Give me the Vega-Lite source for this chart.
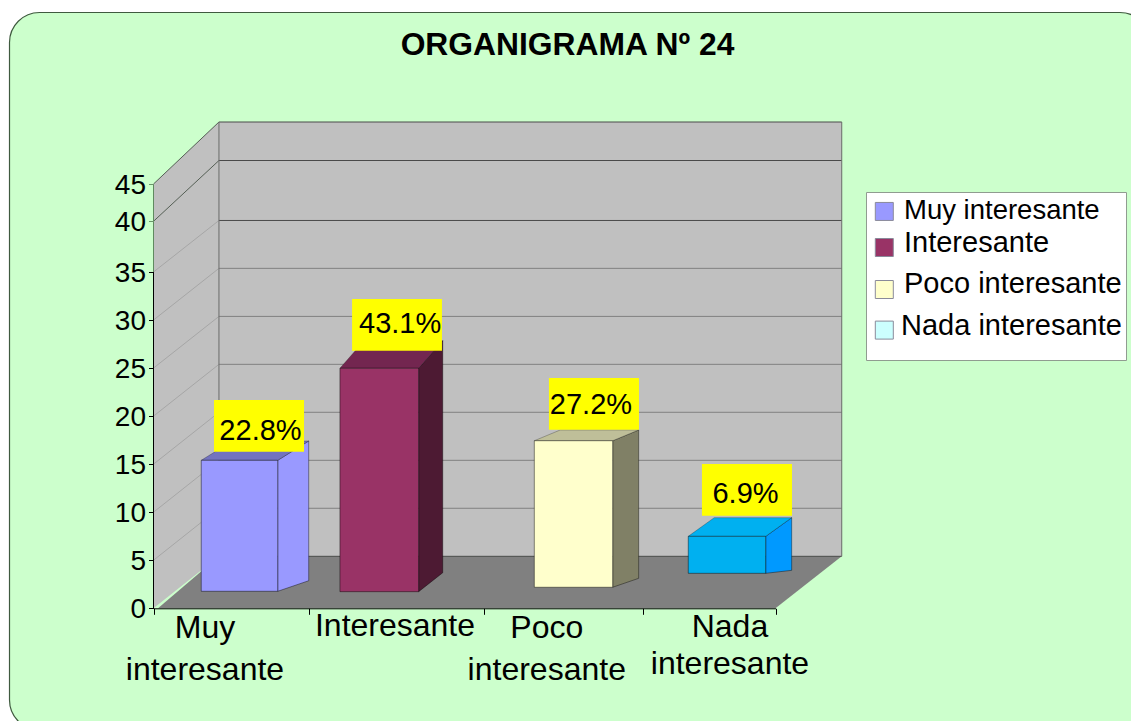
{"$schema":"https://vega.github.io/schema/vega-lite/v6.json","width":1131,"height":721,"padding":0,"autosize":{"type":"none"},"background":"white","config":{"font":"Liberation Sans","view":{"stroke":null}},"title":{"text":"ORGANIGRAMA Nº 24","font":"Liberation Sans","fontSize":31.8,"fontWeight":"bold","color":"black","anchor":"middle","frame":"group","baseline":"alphabetic","offset":-32,"dx":2,"dy":55},"datasets":{"panel":[{"x0":-0.926,"x1":6.408,"y0":-12.67,"y1":67.99}],"wall":[{"x0":0.421,"x1":4.426,"y0":5.41,"y1":53.31}],"leftWall":[{"x":0,"y0":0,"y1":45},{"x":0.421,"y0":5.41,"y1":53.31}],"floor":[{"y":0,"x0":0.029,"x1":4},{"y":5.41,"x0":0.421,"x1":4.426}],"grid":[{"y":10.41},{"y":15.4},{"y":20.4},{"y":25.39},{"y":30.38},{"y":35.36}],"gridDark":[{"y":5.41},{"y":40.11},{"y":48.15},{"y":53.31}],"diagLight":[{"t":5,"x":0,"y":5},{"t":5,"x":0.421,"y":10.41},{"t":10,"x":0,"y":10},{"t":10,"x":0.421,"y":15.4},{"t":15,"x":0,"y":15},{"t":15,"x":0.421,"y":20.4},{"t":20,"x":0,"y":20},{"t":20,"x":0.421,"y":25.39},{"t":25,"x":0,"y":25},{"t":25,"x":0.421,"y":30.38},{"t":30,"x":0,"y":30},{"t":30,"x":0.421,"y":35.36},{"t":35,"x":0,"y":35},{"t":35,"x":0.421,"y":40.11}],"diagDark":[{"t":40,"x":0,"y":40},{"t":40,"x":0.421,"y":48.15},{"t":45,"x":0,"y":45},{"t":45,"x":0.421,"y":53.31}],"edges":[{"x":0.421,"y0":5.41,"y1":53.31},{"x":4.426,"y0":5.41,"y1":53.31}],"axisLow":[{"x":0,"y0":0,"y1":35}],"axisHigh":[{"x":0,"y0":35,"y1":45}],"bars":[{"categoria":"Muy interesante","x0":0.307,"x1":0.799,"y0":1.77,"y1":15.4},{"categoria":"Interesante","x0":1.199,"x1":1.705,"y0":1.73,"y1":24.98},{"categoria":"Poco interesante","x0":2.449,"x1":2.953,"y0":2.19,"y1":17.44},{"categoria":"Nada frontal","x0":3.439,"x1":3.937,"y0":3.64,"y1":7.49}],"sides":[{"cara":"Muy lateral","x":0.799,"y0":1.77,"y1":15.4},{"cara":"Muy lateral","x":0.998,"y0":2.87,"y1":17.41},{"cara":"Int lateral","x":1.705,"y0":1.73,"y1":24.98},{"cara":"Int lateral","x":1.86,"y0":3.7,"y1":27.85},{"cara":"Poco lateral","x":2.953,"y0":2.19,"y1":17.44},{"cara":"Poco lateral","x":3.12,"y0":3.12,"y1":18.56},{"cara":"Nada lateral","x":3.937,"y0":3.64,"y1":7.49},{"cara":"Nada lateral","x":4.104,"y0":3.95,"y1":9.43}],"tops":[{"cara":"Muy superior","y":15.4,"x0":0.307,"x1":0.799},{"cara":"Muy superior","y":17.41,"x0":0.507,"x1":0.998},{"cara":"Int superior","y":24.98,"x0":1.199,"x1":1.705},{"cara":"Int superior","y":27.85,"x0":1.354,"x1":1.86},{"cara":"Poco superior","y":17.44,"x0":2.449,"x1":2.953},{"cara":"Poco superior","y":18.56,"x0":2.616,"x1":3.12},{"cara":"Nada superior","y":7.49,"x0":3.439,"x1":3.937},{"cara":"Nada superior","y":9.43,"x0":3.606,"x1":4.104}],"labels":[{"label":"22.8%","x":0.688,"y":17.51,"x0":0.389,"x1":0.968,"y0":16.3,"y1":21.68},{"label":"43.1%","x":1.586,"y":28.62,"x0":1.277,"x1":1.855,"y0":26.81,"y1":32.19},{"label":"27.2%","x":2.813,"y":20.22,"x0":2.543,"x1":3.122,"y0":18.59,"y1":23.97},{"label":"6.9%","x":3.807,"y":10.93,"x0":3.527,"x1":4.106,"y0":9.64,"y1":15.02}],"cats":[{"t":"Muy","x":0.331,"y":-3.12},{"t":"interesante","x":0.331,"y":-7.46},{"t":"Interesante","x":1.553,"y":-2.88},{"t":"Poco","x":2.529,"y":-3.12},{"t":"interesante","x":2.529,"y":-7.46},{"t":"Nada","x":3.707,"y":-2.96},{"t":"interesante","x":3.707,"y":-6.84}]},"layer":[{"data":{"name":"panel"},"mark":{"type":"rect","fill":"#ccffcc","stroke":"#3f5a3f","strokeWidth":1.2,"cornerRadius":30},"encoding":{"x":{"field":"x0","type":"quantitative","title":null,"scale":{"domain":[0,4],"range":[153.5,775.5],"nice":false,"zero":false},"axis":{"values":[0,1,2.125,3.15,4],"labels":false,"offset":-112.7,"domainColor":"black","tickColor":"black","tickSize":6,"grid":false,"zindex":1}},"x2":{"field":"x1"},"y":{"field":"y0","type":"quantitative","title":null,"scale":{"domain":[0,35,40,45],"range":[608.3,272,221.3,184],"nice":false,"zero":false},"axis":{"values":[0,5,10,15,20,25,30,35,40,45],"offset":-153.5,"domain":false,"tickColor":{"condition":{"test":"datum.value>=40","value":"#6a946a"},"value":"black"},"tickSize":5,"labelFontSize":28,"labelFont":"Liberation Sans","labelColor":"black","labelPadding":3,"labelOffset":1.5,"labelOverlap":false,"grid":false,"zindex":1}},"y2":{"field":"y1"}}},{"data":{"name":"wall"},"mark":{"type":"rect","fill":"#c0c0c0"},"encoding":{"x":{"field":"x0","type":"quantitative","title":null,"scale":{"domain":[0,4],"range":[153.5,775.5],"nice":false,"zero":false}},"x2":{"field":"x1"},"y":{"field":"y0","type":"quantitative","title":null,"scale":{"domain":[0,35,40,45],"range":[608.3,272,221.3,184],"nice":false,"zero":false}},"y2":{"field":"y1"}}},{"data":{"name":"leftWall"},"mark":{"type":"area","orient":"vertical","fill":"#c0c0c0"},"encoding":{"x":{"field":"x","type":"quantitative","title":null,"scale":{"domain":[0,4],"range":[153.5,775.5],"nice":false,"zero":false}},"y":{"field":"y0","type":"quantitative","title":null,"scale":{"domain":[0,35,40,45],"range":[608.3,272,221.3,184],"nice":false,"zero":false}},"y2":{"field":"y1"}}},{"data":{"name":"floor"},"mark":{"type":"area","orient":"horizontal","fill":"#808080"},"encoding":{"y":{"field":"y","type":"quantitative","title":null,"scale":{"domain":[0,35,40,45],"range":[608.3,272,221.3,184],"nice":false,"zero":false}},"x":{"field":"x0","type":"quantitative","title":null,"scale":{"domain":[0,4],"range":[153.5,775.5],"nice":false,"zero":false}},"x2":{"field":"x1"}}},{"data":{"name":"grid"},"mark":{"type":"rule","stroke":"#808080","strokeWidth":1},"encoding":{"y":{"field":"y","type":"quantitative","title":null,"scale":{"domain":[0,35,40,45],"range":[608.3,272,221.3,184],"nice":false,"zero":false}},"x":{"datum":0.421,"type":"quantitative","title":null,"scale":{"domain":[0,4],"range":[153.5,775.5],"nice":false,"zero":false}},"x2":{"datum":4.426}}},{"data":{"name":"gridDark"},"mark":{"type":"rule","stroke":"#4a4a4a","strokeWidth":1},"encoding":{"y":{"field":"y","type":"quantitative","title":null,"scale":{"domain":[0,35,40,45],"range":[608.3,272,221.3,184],"nice":false,"zero":false}},"x":{"datum":0.421,"type":"quantitative","title":null,"scale":{"domain":[0,4],"range":[153.5,775.5],"nice":false,"zero":false}},"x2":{"datum":4.426}}},{"data":{"name":"diagLight"},"mark":{"type":"line","stroke":"#a6a6a6","strokeWidth":1},"encoding":{"detail":{"field":"t"},"x":{"field":"x","type":"quantitative","title":null,"scale":{"domain":[0,4],"range":[153.5,775.5],"nice":false,"zero":false}},"y":{"field":"y","type":"quantitative","title":null,"scale":{"domain":[0,35,40,45],"range":[608.3,272,221.3,184],"nice":false,"zero":false}}}},{"data":{"name":"diagDark"},"mark":{"type":"line","stroke":"#555f55","strokeWidth":1},"encoding":{"detail":{"field":"t"},"x":{"field":"x","type":"quantitative","title":null,"scale":{"domain":[0,4],"range":[153.5,775.5],"nice":false,"zero":false}},"y":{"field":"y","type":"quantitative","title":null,"scale":{"domain":[0,35,40,45],"range":[608.3,272,221.3,184],"nice":false,"zero":false}}}},{"data":{"name":"edges"},"mark":{"type":"rule","stroke":"#6a6a6a","strokeWidth":1},"encoding":{"x":{"field":"x","type":"quantitative","title":null,"scale":{"domain":[0,4],"range":[153.5,775.5],"nice":false,"zero":false}},"y":{"field":"y0","type":"quantitative","title":null,"scale":{"domain":[0,35,40,45],"range":[608.3,272,221.3,184],"nice":false,"zero":false}},"y2":{"field":"y1"}}},{"data":{"name":"axisHigh"},"mark":{"type":"rule","stroke":"#5f8a5f","strokeWidth":1},"encoding":{"x":{"field":"x","type":"quantitative","title":null,"scale":{"domain":[0,4],"range":[153.5,775.5],"nice":false,"zero":false}},"y":{"field":"y0","type":"quantitative","title":null,"scale":{"domain":[0,35,40,45],"range":[608.3,272,221.3,184],"nice":false,"zero":false}},"y2":{"field":"y1"}}},{"data":{"name":"axisLow"},"mark":{"type":"rule","stroke":"black","strokeWidth":1},"encoding":{"x":{"field":"x","type":"quantitative","title":null,"scale":{"domain":[0,4],"range":[153.5,775.5],"nice":false,"zero":false}},"y":{"field":"y0","type":"quantitative","title":null,"scale":{"domain":[0,35,40,45],"range":[608.3,272,221.3,184],"nice":false,"zero":false}},"y2":{"field":"y1"}}},{"data":{"name":"sides"},"mark":{"type":"area","orient":"vertical","stroke":"#000000","strokeOpacity":0.4,"strokeWidth":1},"encoding":{"color":{"field":"cara","type":"nominal","title":null,"scale":{"domain":["Muy interesante","Interesante","Poco interesante","Nada interesante","Nada frontal","Muy lateral","Int lateral","Poco lateral","Nada lateral","Muy superior","Int superior","Poco superior","Nada superior"],"range":["#9999ff","#993366","#ffffcc","#ccffff","#00b0f0","#9999ff","#4d1a33","#808066","#0099ff","#7373bf","#732650","#bfbf99","#00b0f0"]},"legend":{"values":["Muy interesante","Interesante","Poco interesante","Nada interesante"],"orient":"none","legendX":866,"legendY":192,"padding":4,"fillColor":"white","strokeColor":"#909c90","symbolType":"square","symbolSize":324,"symbolOffset":-0.2,"symbolStrokeColor":"#8a8a9a","symbolStrokeWidth":1,"symbolOpacity":1,"labelFont":"Liberation Sans","labelFontSize":29,"labelColor":"black","labelLimit":300,"labelOffset":5.2,"rowPadding":-6,"encode":{"labels":{"update":{"text":{"signal":"datum.value==='Muy interesante'?datum.label:[datum.label,'']"},"fontSize":{"signal":"datum.value==='Muy interesante'?27.5:29"},"lineHeight":{"signal":"datum.value==='Interesante'?9:datum.value==='Poco interesante'?5:14.5"},"dy":{"signal":"datum.value==='Muy interesante'?0:datum.value==='Interesante'?4.5:datum.value==='Poco interesante'?2.5:7.25"},"dx":{"signal":"datum.value==='Nada interesante'?-3:0"}}},"symbols":{"update":{"y":{"signal":"datum.value==='Muy interesante'?15.45:datum.value==='Interesante'?23.5:datum.value==='Poco interesante'?22.5:26.1"}}}}}},"x":{"field":"x","type":"quantitative","title":null,"scale":{"domain":[0,4],"range":[153.5,775.5],"nice":false,"zero":false}},"y":{"field":"y0","type":"quantitative","title":null,"scale":{"domain":[0,35,40,45],"range":[608.3,272,221.3,184],"nice":false,"zero":false}},"y2":{"field":"y1"}}},{"data":{"name":"tops"},"mark":{"type":"area","orient":"horizontal","stroke":"#000000","strokeOpacity":0.25,"strokeWidth":1},"encoding":{"color":{"field":"cara","type":"nominal","title":null,"scale":{"domain":["Muy interesante","Interesante","Poco interesante","Nada interesante","Nada frontal","Muy lateral","Int lateral","Poco lateral","Nada lateral","Muy superior","Int superior","Poco superior","Nada superior"],"range":["#9999ff","#993366","#ffffcc","#ccffff","#00b0f0","#9999ff","#4d1a33","#808066","#0099ff","#7373bf","#732650","#bfbf99","#00b0f0"]}},"y":{"field":"y","type":"quantitative","title":null,"scale":{"domain":[0,35,40,45],"range":[608.3,272,221.3,184],"nice":false,"zero":false}},"x":{"field":"x0","type":"quantitative","title":null,"scale":{"domain":[0,4],"range":[153.5,775.5],"nice":false,"zero":false}},"x2":{"field":"x1"}}},{"data":{"name":"bars"},"mark":{"type":"rect","stroke":"#000000","strokeOpacity":0.45,"strokeWidth":1},"encoding":{"color":{"field":"categoria","type":"nominal","title":null,"scale":{"domain":["Muy interesante","Interesante","Poco interesante","Nada interesante","Nada frontal","Muy lateral","Int lateral","Poco lateral","Nada lateral","Muy superior","Int superior","Poco superior","Nada superior"],"range":["#9999ff","#993366","#ffffcc","#ccffff","#00b0f0","#9999ff","#4d1a33","#808066","#0099ff","#7373bf","#732650","#bfbf99","#00b0f0"]}},"x":{"field":"x0","type":"quantitative","title":null,"scale":{"domain":[0,4],"range":[153.5,775.5],"nice":false,"zero":false}},"x2":{"field":"x1"},"y":{"field":"y0","type":"quantitative","title":null,"scale":{"domain":[0,35,40,45],"range":[608.3,272,221.3,184],"nice":false,"zero":false}},"y2":{"field":"y1"}}},{"data":{"name":"labels"},"mark":{"type":"rect","fill":"#ffff00"},"encoding":{"x":{"field":"x0","type":"quantitative","title":null,"scale":{"domain":[0,4],"range":[153.5,775.5],"nice":false,"zero":false}},"x2":{"field":"x1"},"y":{"field":"y0","type":"quantitative","title":null,"scale":{"domain":[0,35,40,45],"range":[608.3,272,221.3,184],"nice":false,"zero":false}},"y2":{"field":"y1"}}},{"data":{"name":"labels"},"mark":{"type":"text","fontSize":29,"font":"Liberation Sans","fill":"black","align":"center","baseline":"alphabetic"},"encoding":{"text":{"field":"label"},"x":{"field":"x","type":"quantitative","title":null,"scale":{"domain":[0,4],"range":[153.5,775.5],"nice":false,"zero":false}},"y":{"field":"y","type":"quantitative","title":null,"scale":{"domain":[0,35,40,45],"range":[608.3,272,221.3,184],"nice":false,"zero":false}}}},{"data":{"name":"cats"},"mark":{"type":"text","fontSize":32,"font":"Liberation Sans","fill":"black","align":"center","baseline":"alphabetic"},"encoding":{"text":{"field":"t"},"x":{"field":"x","type":"quantitative","title":null,"scale":{"domain":[0,4],"range":[153.5,775.5],"nice":false,"zero":false}},"y":{"field":"y","type":"quantitative","title":null,"scale":{"domain":[0,35,40,45],"range":[608.3,272,221.3,184],"nice":false,"zero":false}}}}]}
